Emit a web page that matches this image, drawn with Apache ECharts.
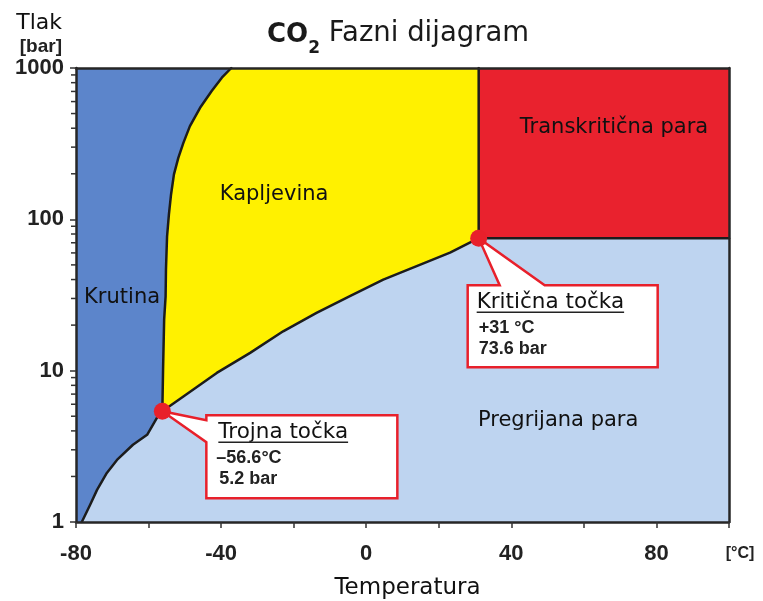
<!DOCTYPE html>
<html>
<head>
<meta charset="utf-8">
<title>CO2 Fazni dijagram</title>
<script src="https://cdn.jsdelivr.net/npm/echarts@6/dist/echarts.min.js"></script>
<style>
html, body { margin: 0; padding: 0; background: #fff; }
#main { width: 763px; height: 601px; }
</style>
</head>
<body>
<div id="main"></div>
<script>
// tocke su [temperatura °C, tlak bar]
var xMin = -80, xMax = 100, yMin = 1, yMax = 1000;

var sublimation = [[-78.4, 1], [-76.1, 1.3], [-74.2, 1.63], [-71.5, 2.11], [-68.7, 2.57],
    [-64.3, 3.24], [-60.4, 3.77], [-57.7, 4.88], [-56.2, 5.4]];
var melting = [[-56.2, 5.4], [-56.0, 10.2], [-55.7, 21.8], [-55.3, 31], [-55.2, 46.7],
    [-54.9, 77], [-54.4, 107], [-53.8, 146], [-53.0, 198], [-51.8, 255], [-50.4, 320],
    [-48.6, 413], [-45.8, 546], [-42.6, 704], [-39.8, 863], [-37.2, 1000]];
var vaporization = [[-56.2, 5.4], [-50.4, 6.76], [-41.2, 9.66], [-32.0, 13.1], [-22.9, 18.2],
    [-13.7, 24.1], [-4.5, 31.1], [4.7, 40.0], [13.9, 49.1], [23.1, 60.2], [31, 75]];
var triplePoint = [-56.2, 5.4];
var criticalPoint = [31, 75];

var yMinorTicks = [2, 3, 4, 5, 6, 7, 8, 9, 20, 30, 40, 50, 60, 70, 80, 90,
    200, 300, 400, 500, 600, 700, 800, 900];

var regionNames = ['Kapljevina', 'Krutina', 'Transkritična para', 'Pregrijana para'];
var regionLabelPos = [[-25.4, 146], [-67.3, 30.4], [68.3, 406], [52.9, 4.67]];

var calloutTitles = ['Trojna točka', 'Kritična točka'];
var calloutLines = [['–56.6°C', '5.2 bar'], ['+31 °C', '73.6 bar']];

var chart = echarts.init(document.getElementById('main'));

var colors = {
    solid: '#5C85CB',
    liquid: '#FFF100',
    trans: '#E9222E',
    vapour: '#BED4F0',
    edge: '#1c1c1c',
    mark: '#E8202B'
};
var regFont = '"DejaVu Sans", sans-serif';
var boldFont = '"Liberation Sans", Arial, sans-serif';

var measureCtx = document.createElement('canvas').getContext('2d');
function textWidth(txt, font) {
    measureCtx.font = font;
    return measureCtx.measureText(txt).width;
}

// polygoni faza
var solidArea = [[xMin, yMin]].concat(sublimation, melting.slice(1), [[xMin, yMax]]);
var liquidArea = melting.concat([[criticalPoint[0], yMax]], vaporization.slice().reverse().slice(0, -1));
var transArea = [criticalPoint, [xMax, criticalPoint[1]], [xMax, yMax], [criticalPoint[0], yMax]];

function regionSeries(points, color) {
    return {
        type: 'custom',
        silent: true,
        z: 1,
        data: [points[0]],
        renderItem: function (params, api) {
            return {
                type: 'polygon',
                shape: { points: points.map(function (p) { return api.coord(p); }) },
                style: { fill: color }
            };
        }
    };
}

function edgeSeries(points) {
    return {
        type: 'line',
        data: points,
        showSymbol: false,
        silent: true,
        z: 3,
        lineStyle: { color: colors.edge, width: 2.5, join: 'round', cap: 'round' }
    };
}

function calloutItem(params, api) {
    var i = params.dataIndex;
    var p = api.coord([api.value(0), api.value(1)]);
    var L, R, T, B, pts;
    if (i === 0) {
        L = p[0] + 44; R = p[0] + 235; T = p[1] + 4; B = p[1] + 87;
        pts = [[L, T], [R, T], [R, B], [L, B], [L, p[1] + 31], [p[0], p[1]], [L, p[1] + 9]];
    } else {
        L = p[0] - 11; R = p[0] + 179; T = p[1] + 47; B = p[1] + 129;
        pts = [[L, T], [p[0] + 21, T], [p[0], p[1]], [p[0] + 66, T], [R, T], [R, B], [L, B]];
    }
    var titleFont = '21.5px ' + regFont;
    var valFont = 'bold 18px ' + boldFont;
    var tx = i === 0 ? L + 12 : L + 9;
    var w = textWidth(calloutTitles[i], titleFont);
    return {
        type: 'group',
        children: [
            { type: 'polygon', shape: { points: pts },
              style: { fill: '#fff', stroke: colors.mark, lineWidth: 2.5, lineJoin: 'miter' } },
            { type: 'text', x: tx, y: T + 17,
              style: { text: calloutTitles[i], font: titleFont, fill: '#111',
                       align: 'left', verticalAlign: 'middle', textAlign: 'left', textVerticalAlign: 'middle' } },
            { type: 'line', shape: { x1: tx, y1: T + 27, x2: tx + w, y2: T + 27 },
              style: { stroke: '#222', lineWidth: 1.5 } },
            { type: 'text', x: i === 0 ? L + 10 : L + 11, y: T + 43,
              style: { text: calloutLines[i][0], font: valFont, fill: '#222',
                       align: 'left', verticalAlign: 'middle', textAlign: 'left', textVerticalAlign: 'middle' } },
            { type: 'text', x: i === 0 ? L + 13 : L + 11, y: T + 64,
              style: { text: calloutLines[i][1], font: valFont, fill: '#222',
                       align: 'left', verticalAlign: 'middle', textAlign: 'left', textVerticalAlign: 'middle' } }
        ]
    };
}

var frameLine = { show: true, onZero: false, lineStyle: { color: '#262626', width: 2.5 } };

var option = {
    animation: false,
    backgroundColor: '#fff',
    title: {
        left: 262,
        top: 15,
        text: '{b|CO}{s|2}{r| Fazni dijagram}',
        textStyle: {
            rich: {
                b: { fontFamily: regFont, fontWeight: 'bold', fontSize: 26, color: '#1a1a1a',
                     padding: [0, 0, 9, 0], verticalAlign: 'bottom' },
                s: { fontFamily: regFont, fontWeight: 'bold', fontSize: 17, color: '#1a1a1a',
                     verticalAlign: 'bottom' },
                r: { fontFamily: regFont, fontWeight: 'normal', fontSize: 27.5, color: '#1a1a1a',
                     padding: [0, 0, 9, 0], verticalAlign: 'bottom' }
            }
        }
    },
    grid: {
        left: 76, right: 34, top: 68, bottom: 79,
        show: true, backgroundColor: colors.vapour, borderWidth: 0,
        containLabel: false, outerBoundsMode: 'none'
    },
    xAxis: [
        {
            type: 'value', min: xMin, max: xMax, interval: 20, position: 'bottom', z: 5,
            axisLine: frameLine,
            axisTick: { show: true, length: 6, lineStyle: { color: '#333', width: 1.5 } },
            splitLine: { show: false },
            axisLabel: {
                margin: 21,
                fontFamily: boldFont, fontWeight: 'bold', fontSize: 22, color: '#222',
                formatter: function (v) {
                    if (v === xMax) return '{u|[°C]}';
                    return v % 40 === 0 ? String(v) : '';
                },
                rich: {
                    u: { fontFamily: boldFont, fontWeight: 'bold', fontSize: 16, color: '#222',
                         padding: [3, 0, 0, 22] }
                }
            },
            name: 'Temperatura',
            nameLocation: 'middle',
            nameGap: 55,
            nameTextStyle: { fontFamily: regFont, fontSize: 23, color: '#111', padding: [0, 0, 0, 10] }
        },
        {
            type: 'value', min: xMin, max: xMax, position: 'top', z: 5,
            axisLine: frameLine,
            axisTick: { show: false }, axisLabel: { show: false }, splitLine: { show: false }
        }
    ],
    yAxis: [
        {
            type: 'log', logBase: 10, min: yMin, max: yMax, position: 'left', z: 5,
            axisLine: frameLine,
            axisTick: { show: true, length: 6, lineStyle: { color: '#333', width: 1.5 } },
            splitLine: { show: false },
            axisLabel: {
                margin: 12,
                fontFamily: boldFont, fontWeight: 'bold', fontSize: 22, color: '#222',
                formatter: function (v) { return String(Math.round(v)); }
            },
            name: '{a|Tlak}\n{b|[bar]}',
            nameLocation: 'end',
            nameGap: 10,
            nameTextStyle: {
                align: 'right',
                padding: [0, 14, 0, 0],
                rich: {
                    a: { fontFamily: regFont, fontSize: 22, color: '#111', lineHeight: 26, align: 'right' },
                    b: { fontFamily: boldFont, fontWeight: 'bold', fontSize: 19, color: '#222', lineHeight: 22, align: 'right' }
                }
            }
        },
        {
            type: 'log', logBase: 10, min: yMin, max: yMax, position: 'right', z: 5,
            axisLine: frameLine,
            axisTick: { show: false }, axisLabel: { show: false }, splitLine: { show: false }
        }
    ],
    series: [
        regionSeries(solidArea, colors.solid),
        regionSeries(liquidArea, colors.liquid),
        regionSeries(transArea, colors.trans),
        edgeSeries(sublimation),
        edgeSeries(melting),
        edgeSeries(vaporization),
        edgeSeries([criticalPoint, [criticalPoint[0], yMax]]),
        edgeSeries([criticalPoint, [xMax, criticalPoint[1]]]),
        {
            // mali podioci na log osi
            type: 'custom',
            silent: true,
            z: 6,
            data: yMinorTicks.map(function (v) { return [xMin, v]; }),
            renderItem: function (params, api) {
                var p = api.coord([api.value(0), api.value(1)]);
                return {
                    type: 'line',
                    shape: { x1: p[0] - 5, y1: p[1], x2: p[0], y2: p[1] },
                    style: { stroke: '#333', lineWidth: 1.5 }
                };
            }
        },
        {
            type: 'custom',
            silent: true,
            z: 4,
            data: regionLabelPos,
            renderItem: function (params, api) {
                var p = api.coord([api.value(0), api.value(1)]);
                return {
                    type: 'text', x: p[0], y: p[1],
                    style: { text: regionNames[params.dataIndex], font: '21px ' + regFont, fill: '#111',
                             align: 'center', verticalAlign: 'middle', textAlign: 'center', textVerticalAlign: 'middle' }
                };
            }
        },
        {
            type: 'custom',
            silent: true,
            z: 7,
            data: [triplePoint, criticalPoint],
            renderItem: calloutItem
        },
        {
            type: 'scatter',
            silent: true,
            z: 8,
            symbolSize: 17,
            itemStyle: { color: colors.mark, opacity: 1 },
            data: [triplePoint, criticalPoint]
        }
    ]
};

chart.setOption(option);
</script>
</body>
</html>
